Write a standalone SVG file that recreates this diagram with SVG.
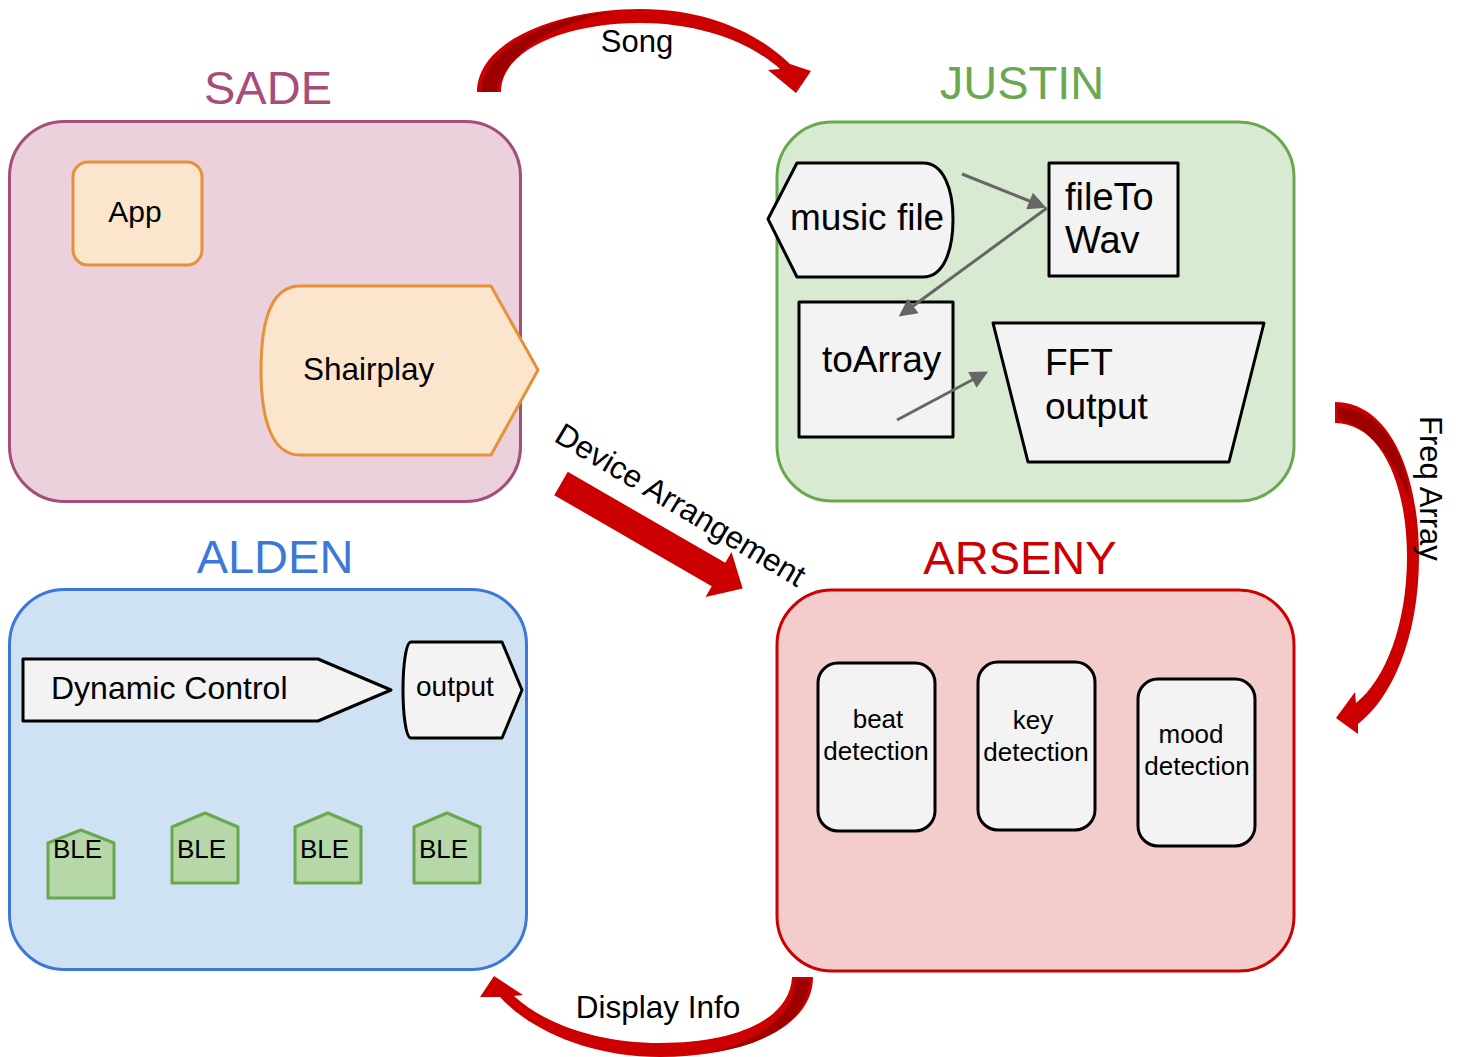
<svg xmlns="http://www.w3.org/2000/svg" width="1477" height="1057" viewBox="0 0 1477 1057">
  <defs>
    <style>
      text { font-family: "Liberation Sans", Arial, sans-serif; fill: #000; }
      .title { font-size: 47px; text-anchor: middle; }
      .panel { stroke-width: 3; }
      .node { fill: #f3f3f3; stroke: #000; stroke-width: 3; stroke-linejoin: round; }
      .orange { fill: #fce5cd; stroke: #e69138; stroke-width: 3; stroke-linejoin: round; }
      .ble { fill: #b6d7a8; stroke: #6aa84f; stroke-width: 3; stroke-linejoin: round; }
      .link { stroke: #666666; stroke-width: 3; fill: none; marker-end: url(#ah); }
      .flow { fill: #cc0000; }
      .fold { fill: #9e0000; }
      .mid { text-anchor: middle; }
    </style>
    <marker id="ah" viewBox="0 0 10 10" refX="6" refY="5" markerWidth="20" markerHeight="18" markerUnits="userSpaceOnUse" orient="auto">
      <path d="M0,0 L10,5 L0,10 Z" fill="#666666"/>
    </marker>
  </defs>

  <!-- SADE panel -->
  <g id="sade">
    <rect class="panel" x="9.5" y="121.5" width="511" height="380" rx="55" fill="#ead1dc" stroke="#a64d79"/>
    <text class="title" x="268" y="104" style="fill:#a64d79">SADE</text>
  </g>
  <g id="app">
    <rect class="orange" x="73" y="162" width="129" height="103" rx="15"/>
    <text x="135" y="222" class="mid" font-size="30">App</text>
  </g>
  <g id="shairplay">
    <path class="orange" d="M300,286 L491,286 L538,370 L491,455 L300,455 C272,455 261,420 261,370 C261,320 272,286 300,286 Z"/>
    <text x="303" y="380" font-size="31.5">Shairplay</text>
  </g>

  <!-- JUSTIN panel -->
  <g id="justin">
    <rect class="panel" x="777" y="122" width="517" height="379" rx="55" fill="#d9ead3" stroke="#6aa84f"/>
    <text class="title" x="1022" y="99" style="fill:#6aa84f">JUSTIN</text>
  </g>
  <g id="music-file">
    <path class="node" d="M768,219 L797,163 L923,163 C944,163 953,190 953,219 C953,250 944,277 923,277 L797,277 Z"/>
    <text x="790" y="230" font-size="37">music file</text>
  </g>
  <g id="file-to-wav">
    <rect class="node" x="1049" y="163" width="129" height="113"/>
    <text x="1065" y="210" font-size="38">fileTo</text>
    <text x="1065" y="253" font-size="38">Wav</text>
  </g>
  <g id="to-array">
    <rect class="node" x="799" y="302" width="154" height="135"/>
    <text x="822" y="372" font-size="37">toArray</text>
  </g>
  <g id="fft-output">
    <path class="node" d="M993,323 L1264,323 L1229,462 L1028,462 Z"/>
    <text x="1045" y="375" font-size="37">FFT</text>
    <text x="1045" y="419" font-size="37">output</text>
  </g>

  <!-- ALDEN panel -->
  <g id="alden">
    <rect class="panel" x="9.5" y="589.5" width="517" height="380" rx="55" fill="#cfe2f3" stroke="#3c78d8"/>
    <text class="title" x="275" y="573" style="fill:#3c78d8">ALDEN</text>
  </g>
  <g id="dynamic-control">
    <path class="node" d="M23,659 L318,659 L391,690 L318,721 L23,721 Z"/>
    <text x="51" y="699" font-size="32">Dynamic Control</text>
  </g>
  <g id="output">
    <path class="node" d="M411,642 L502,642 L522,690 L502,738 L411,738 C406,738 403,715 403,690 C403,665 406,642 411,642 Z"/>
    <text x="416" y="696" font-size="28">output</text>
  </g>
  <g id="ble-1">
    <path class="ble" d="M48,843 L81,830 L114,843 L114,898 L48,898 Z"/>
    <text x="53" y="858" font-size="26">BLE</text>
  </g>
  <g id="ble-2">
    <path class="ble" d="M172,827 L205,813 L238,827 L238,883 L172,883 Z"/>
    <text x="177" y="858" font-size="26">BLE</text>
  </g>
  <g id="ble-3">
    <path class="ble" d="M295,827 L328,813 L361,827 L361,883 L295,883 Z"/>
    <text x="300" y="858" font-size="26">BLE</text>
  </g>
  <g id="ble-4">
    <path class="ble" d="M414,827 L447,813 L480,827 L480,883 L414,883 Z"/>
    <text x="419" y="858" font-size="26">BLE</text>
  </g>

  <!-- ARSENY panel -->
  <g id="arseny">
    <rect class="panel" x="777" y="590" width="517" height="381" rx="55" fill="#f4cccc" stroke="#cc0000"/>
    <text class="title" x="1020" y="574" style="fill:#cc0000">ARSENY</text>
  </g>
  <g id="beat-detection">
    <rect class="node" x="818" y="663" width="117" height="168" rx="20"/>
    <text x="878" y="728" class="mid" font-size="26">beat</text>
    <text x="876" y="760" class="mid" font-size="26">detection</text>
  </g>
  <g id="key-detection">
    <rect class="node" x="978" y="662" width="117" height="168" rx="20"/>
    <text x="1033" y="729" class="mid" font-size="26">key</text>
    <text x="1036" y="761" class="mid" font-size="26">detection</text>
  </g>
  <g id="mood-detection">
    <rect class="node" x="1138" y="679" width="117" height="167" rx="20"/>
    <text x="1191" y="743" class="mid" font-size="26">mood</text>
    <text x="1197" y="775" class="mid" font-size="26">detection</text>
  </g>

  <!-- connectors -->
  <g id="connectors">
    <line class="link" x1="962" y1="174" x2="1039.6" y2="205"/>
    <line class="link" x1="1047" y1="208" x2="904.5" y2="312.3"/>
    <line class="link" x1="897" y1="420" x2="981.9" y2="374.8"/>

    <!-- Song: SADE to JUSTIN -->
    <path class="flow" d="M477,92 C477,40 560,9 640,9 C710,9 760,35 790,64 L811,71 L796,93 L768,70 L780,69 C750,42 700,23 640,23 C565,23 501,50 501,92 Z"/>
    <path class="fold" d="M481,92 C481,47 555,15 612,12 C560,22 505,50 497,92 Z"/>
    <text x="637" y="52" class="mid" font-size="31">Song</text>

    <!-- Freq Array: JUSTIN to ARSENY -->
    <path class="flow" d="M1335,402 C1388,402 1419,470 1419,557 C1419,640 1390,700 1358,724 L1358,734 L1336,718 L1355,692 L1356,703 C1385,680 1407,625 1407,557 C1407,482 1380,423 1335,423 Z"/>
    <path class="fold" d="M1338,406 C1380,410 1405,450 1410,500 C1395,462 1372,427 1338,419 Z"/>
    <text x="1420" y="416" font-size="31" transform="rotate(90 1420 416)">Freq Array</text>

    <!-- Display Info: ARSENY to ALDEN -->
    <path class="flow" d="M813,977 C813,1030 740,1057 660,1057 C590,1057 530,1030 500,997 L480,997 L494,976 L523,995 L514,996 C545,1025 600,1043 660,1043 C735,1043 790,1020 792,977 Z"/>
    <path class="fold" d="M795,979 C795,1015 760,1040 712,1052 C765,1046 808,1020 810,979 Z"/>
    <text x="658" y="1018" class="mid" font-size="31.5">Display Info</text>

    <!-- Device Arrangement: SADE to ARSENY -->
    <polygon class="flow" points="567.75,471.8 725.25,562.8 731.5,552 742.7,588.5 705.5,597 711.75,586.2 554.25,495.2"/>
    <text x="675" y="514" class="mid" font-size="31.5" transform="rotate(31 675 514)">Device Arrangement</text>
  </g>
</svg>
